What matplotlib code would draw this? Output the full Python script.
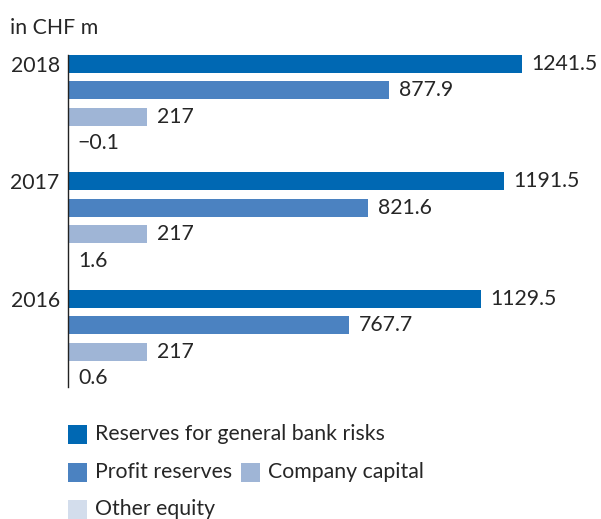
import matplotlib
matplotlib.use('Agg')
import matplotlib.pyplot as plt
from matplotlib.patches import Rectangle

plt.rcParams['font.family'] = ['Lato', 'DejaVu Sans']

years = ['2018', '2017', '2016']
series = ['Reserves for general bank risks', 'Profit reserves',
          'Company capital', 'Other equity']
values = {
    'Reserves for general bank risks': [1241.5, 1191.5, 1129.5],
    'Profit reserves': [877.9, 821.6, 767.7],
    'Company capital': [217, 217, 217],
    'Other equity': [-0.1, 1.6, 0.6],
}
labels = {
    'Reserves for general bank risks': ['1241.5', '1191.5', '1129.5'],
    'Profit reserves': ['877.9', '821.6', '767.7'],
    'Company capital': ['217', '217', '217'],
    'Other equity': ['\u22120.1', '1.6', '0.6'],
}
colors = ['#0068b3', '#4b82c1', '#9fb5d6', '#d3ddec']

W, H = 601, 519
fig = plt.figure(figsize=(W / 100, H / 100), dpi=100)
ax = fig.add_axes([68 / W, 1 - 387 / H, 1 - 68 / W, (387 - 55) / H])

group_step = 4.45
bar_h = 0.68
txt = dict(fontsize=15.3, color='#262626', fontweight='normal')

for s, name in enumerate(series):
    for g, year in enumerate(years):
        y = g * group_step + s
        v = values[name][g]
        ax.barh(y, v, height=bar_h, color=colors[s], edgecolor='none')
        ax.annotate(labels[name][g], (max(v, 0), y), xytext=(7, 0),
                    textcoords='offset points', va='center', ha='left', **txt)

ax.set_xlim(0, (W - 68) / 0.3657)
ax.set_ylim(2 * group_step + 3 + 0.34, -0.34)
for sp in ['top', 'right', 'bottom']:
    ax.spines[sp].set_visible(False)
ax.spines['left'].set_linewidth(1.0)
ax.spines['left'].set_color('#222222')
ax.set_xticks([])
ax.set_yticks([g * group_step for g in range(len(years))])
ax.set_yticklabels(years, **txt)
ax.tick_params(axis='y', length=0, pad=6)

fig.text(10 / W, 1 - 28 / H, 'in CHF m', ha='left', va='center', **txt)

# legend
legend_pos = [(68, 434), (68, 472), (241, 472), (68, 509)]
for (px, py), name, c in zip(legend_pos, series, colors):
    fig.patches.append(Rectangle((px / W, 1 - (py + 9.5) / H), 19 / W, 19 / H,
                                 transform=fig.transFigure, facecolor=c,
                                 edgecolor='none'))
    fig.text((px + 27) / W, 1 - py / H, name, ha='left', va='center', **txt)

fig.savefig('out.png', dpi=100, facecolor='white')
